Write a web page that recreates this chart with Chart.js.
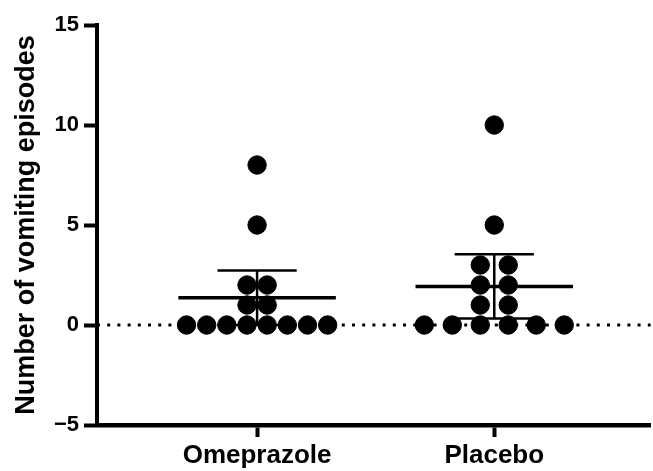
<!DOCTYPE html>
<html>
<head>
<meta charset="utf-8">
<script src="https://cdn.jsdelivr.net/npm/chart.js@4/dist/chart.umd.min.js"></script>
<style>
  html, body { margin: 0; padding: 0; background: #fff; overflow: hidden; width: 653px; height: 471px; }
  /* a bit wider than the window: chart.js keeps ~10px spare on the right */
  #wrap { width: 661px; height: 471px; }
</style>
</head>
<body>
<div id="wrap"><canvas id="dotChart"></canvas></div>
<script>
// =========================
// DATA
// =========================
const categories = ["Omeprazole", "Placebo"];
const omeprazoleValues = [0, 0, 0, 0, 0, 0, 0, 0, 1, 1, 2, 2, 5, 8];
const placeboValues = [0, 0, 0, 0, 0, 0, 1, 1, 2, 2, 3, 3, 5, 10];
const meanValues = [1.36, 1.93];
const ciLower = [0.0, 0.32];
const ciUpper = [2.73, 3.54];
const yTicks = [-5, 0, 5, 10, 15];

// horizontal spread of dots sharing a value (x units), per group
const groupSpread = [0.085, 0.118];
const X_MIN = 0.325, X_MAX = 2.66;

// spread tied values side by side around the category position
function toPoints(values, groupIndex) {
    const counts = {};
    values.forEach(v => { counts[v] = (counts[v] || 0) + 1; });
    const seen = {};
    return values.map(v => {
        const i = seen[v] || 0;
        seen[v] = i + 1;
        const offset = (i - (counts[v] - 1) / 2) * groupSpread[groupIndex];
        return { x: groupIndex + 1 + offset, y: v };
    });
}

// =========================
// MEAN + ERROR BARS
// =========================
const errorBars = {
    id: "errorBars",
    afterDatasetsDraw(chart) {
        const { ctx, scales: { x, y } } = chart;
        ctx.save();
        ctx.strokeStyle = "#000";
        categories.forEach((c, i) => {
            const cx = x.getPixelForValue(i + 1);
            const meanHalf = x.getPixelForValue(i + 1 + 0.332) - cx;
            const capHalf = x.getPixelForValue(i + 1 + 0.167) - cx;
            const yMean = y.getPixelForValue(meanValues[i]);
            const yLo = y.getPixelForValue(ciLower[i]);
            const yHi = y.getPixelForValue(ciUpper[i]);

            ctx.lineWidth = 2.5;
            ctx.beginPath();
            ctx.moveTo(cx, yLo); ctx.lineTo(cx, yHi);
            ctx.moveTo(cx - capHalf, yHi); ctx.lineTo(cx + capHalf, yHi);
            ctx.moveTo(cx - capHalf, yLo); ctx.lineTo(cx + capHalf, yLo);
            ctx.stroke();

            ctx.lineWidth = 3.5;
            ctx.beginPath();
            ctx.moveTo(cx - meanHalf, yMean); ctx.lineTo(cx + meanHalf, yMean);
            ctx.stroke();
        });
        ctx.restore();
    }
};

document.addEventListener("DOMContentLoaded", () => {
    const canvas = document.getElementById("dotChart");
    const ctx = canvas.getContext("2d");

    Chart.defaults.font.family = "'Liberation Sans', Arial, sans-serif";
    Chart.defaults.color = "#000";

    new Chart(ctx, {
        type: "scatter",
        data: {
            datasets: [
                {
                    label: categories[0],
                    data: toPoints(omeprazoleValues, 0),
                    backgroundColor: "#000",
                    borderColor: "#000",
                    pointRadius: 9.2,
                    pointHoverRadius: 9.2
                },
                {
                    label: categories[1],
                    data: toPoints(placeboValues, 1),
                    backgroundColor: "#000",
                    borderColor: "#000",
                    pointRadius: 9.2,
                    pointHoverRadius: 9.2
                },
                {
                    type: "line",
                    label: "zero",
                    data: [{ x: X_MIN, y: 0 }, { x: X_MAX, y: 0 }],
                    borderColor: "#000",
                    borderWidth: 3,
                    borderDash: [3, 7.2],
                    pointRadius: 0,
                    fill: false
                }
            ]
        },
        options: {
            responsive: true,
            maintainAspectRatio: false,
            animation: false,
            layout: { padding: { top: 25, right: 0, left: 0, bottom: 0 } },
            plugins: {
                legend: { display: false },
                tooltip: { enabled: false }
            },
            scales: {
                x: {
                    type: "linear",
                    min: X_MIN,
                    max: X_MAX,
                    afterBuildTicks: (axis) => {
                        axis.ticks = categories.map((c, i) => ({ value: i + 1 }));
                    },
                    afterFit: (axis) => { axis.height = 46; },
                    ticks: {
                        autoSkip: false,
                        maxRotation: 0,
                        padding: 3,
                        font: { size: 26, weight: "bold" },
                        callback: (v) => categories[Math.round(v) - 1] || ""
                    },
                    grid: {
                        drawOnChartArea: false,
                        drawTicks: true,
                        tickLength: 12,
                        tickWidth: 4,
                        tickColor: "#000"
                    },
                    border: { display: true, color: "#000", width: 4.5 }
                },
                y: {
                    min: -5,
                    max: 15,
                    afterBuildTicks: (axis) => {
                        axis.ticks = yTicks.map(v => ({ value: v }));
                    },
                    afterFit: (axis) => { axis.width = 97; },
                    ticks: {
                        padding: 5,
                        font: { size: 22, weight: "bold" },
                        callback: (v) => v < 0 ? "\u2212" + Math.abs(v) : String(v)
                    },
                    grid: {
                        drawOnChartArea: false,
                        drawTicks: true,
                        tickLength: 13,
                        tickWidth: 4,
                        tickColor: "#000"
                    },
                    border: { display: true, color: "#000", width: 4 },
                    title: {
                        display: true,
                        text: "Number of vomiting episodes",
                        font: { size: 27, weight: "bold" },
                        padding: { top: 10, bottom: 0 }
                    }
                }
            }
        },
        plugins: [errorBars]
    });
});
</script>
</body>
</html>
